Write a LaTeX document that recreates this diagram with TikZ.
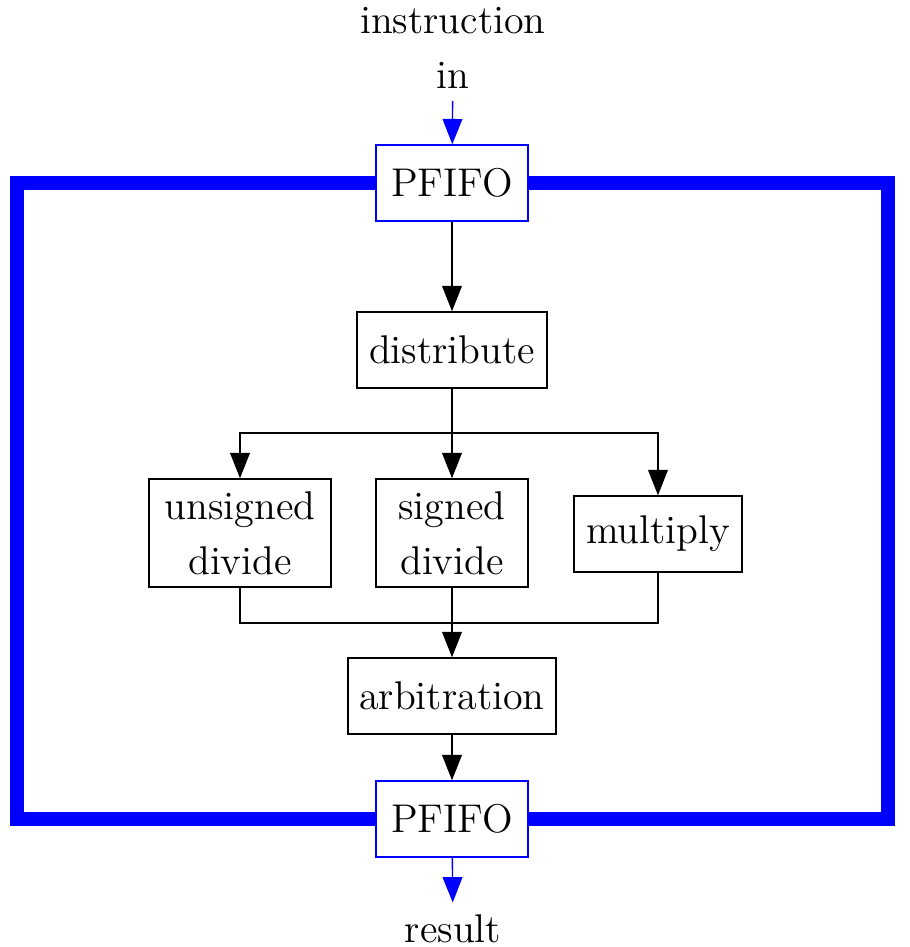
\documentclass[tikz,border=0pt]{standalone}
\usetikzlibrary{arrows.meta}
\begin{document}
\begin{tikzpicture}[x=0.01cm, y=-0.01cm, font=\fontsize{11.4pt}{15.6pt}\selectfont,
    box/.style={draw, fill=white, line width=0.4pt, inner sep=0pt, align=center, minimum height=0.76cm},
    fifo/.style={box, draw=blue},
    arr/.style={-{Triangle[length=7.2pt,width=5.6pt]}, line width=0.4pt}]
    \useasboundingbox (0,0) rectangle (910,947);

    % Nodes
    \node[align=center] (in) at (453,48) {instruction\\in};
    \node[fifo, minimum width=1.52cm] (ptop) at (452,183) {PFIFO};
    \node[box, minimum width=1.90cm] (dist) at (452,350) {distribute};
    \node[box, minimum width=1.82cm, minimum height=1.08cm] (udiv) at (240,533) {unsigned\\divide};
    \node[box, minimum width=1.52cm, minimum height=1.08cm] (sdiv) at (452,533) {signed\\divide};
    \node[box, minimum width=1.68cm] (mul) at (658,534) {multiply};
    \node[box, minimum width=2.08cm] (arb) at (452,696) {arbitration};
    \node[fifo, minimum width=1.52cm] (pbot) at (452,819) {PFIFO};
    \node (res) at (453,929) {result};

    % Frame
    \coordinate (tl) at (17,183);
    \coordinate (bl) at (17,819);
    \coordinate (tr) at (888,183);
    \coordinate (br) at (888,819);
    \draw[blue, line width=3.8pt] (ptop) -- (tl) -- (bl) -- (pbot);
    \draw[blue, line width=3.8pt] (ptop) -- (tr) -- (br) -- (pbot);

    % Connectors
    \draw[arr, blue] (in) -- (ptop);
    \draw[arr] (ptop) -- (dist);
    \coordinate (split) at (452,433);
    \coordinate (join) at (452,623);
    \draw (dist) -- (split);
    \foreach \n in {udiv, sdiv, mul} {
        \draw[arr] (split) -| (\n);
        \draw[line width=0.4pt] (\n) |- (join);
    }
    \draw[arr] (join) -- (arb);
    \draw[arr] (arb) -- (pbot);
    \draw[arr, blue] (pbot) -- (res);
\end{tikzpicture}
\end{document}
